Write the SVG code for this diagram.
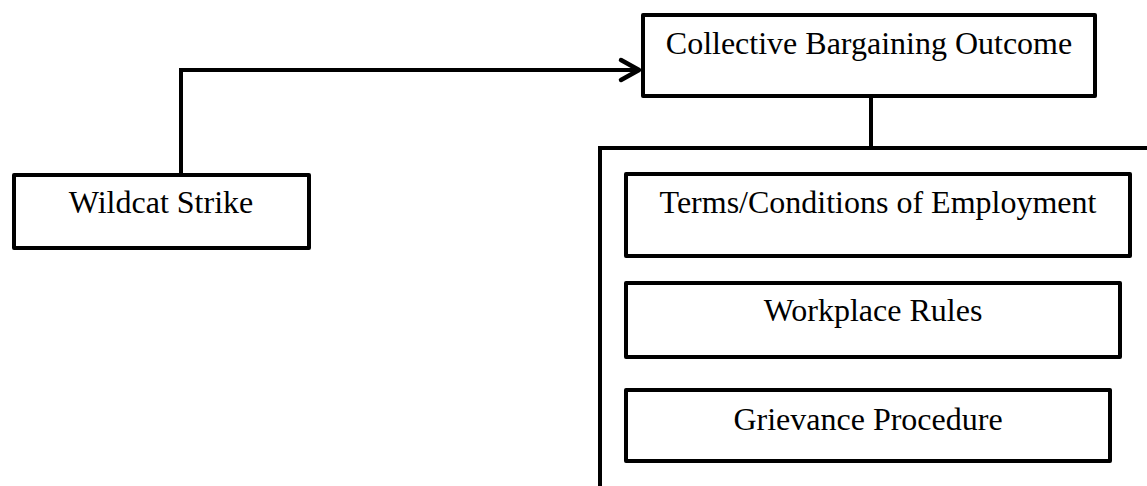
<svg xmlns="http://www.w3.org/2000/svg" width="1147" height="486" viewBox="0 0 1147 486">
<style>
.box{fill:#fff;stroke:#000;stroke-width:4;stroke-linejoin:round}
.line{fill:none;stroke:#000;stroke-width:4;stroke-linejoin:miter}
.lbl{font-family:"Liberation Serif","Times New Roman",serif;font-size:32px;fill:#000;text-anchor:middle}
</style>
<defs>
<marker id="arrow" markerUnits="userSpaceOnUse" markerWidth="30" markerHeight="30" refX="22" refY="12" orient="auto" viewBox="0 0 30 24">
<polyline points="4,2 22,12 4,22" fill="none" stroke="#000" stroke-width="4.5" stroke-linecap="round" stroke-linejoin="round"/>
</marker>
</defs>
<rect width="1147" height="486" fill="#fff"/>
<g id="connectors">
<path class="line" d="M181,175 V70 H639" marker-end="url(#arrow)"/>
<path class="line" d="M871,97 V148"/>
</g>
<g id="container">
<path class="line" d="M600,490 V148 H1150"/>
</g>
<g id="wildcat">
<rect class="box" x="14" y="175" width="295" height="73"/>
<text class="lbl" x="161" y="213">Wildcat Strike</text>
</g>
<g id="collective">
<rect class="box" x="643" y="15" width="452" height="81"/>
<text class="lbl" x="869" y="54">Collective Bargaining Outcome</text>
</g>
<g id="terms">
<rect class="box" x="626" y="174" width="504" height="82"/>
<text class="lbl" x="878" y="213">Terms/Conditions of Employment</text>
</g>
<g id="workplace">
<rect class="box" x="626" y="283" width="494" height="74"/>
<text class="lbl" x="873" y="321">Workplace Rules</text>
</g>
<g id="grievance">
<rect class="box" x="626" y="390" width="484" height="71"/>
<text class="lbl" x="868" y="430">Grievance Procedure</text>
</g>
</svg>
